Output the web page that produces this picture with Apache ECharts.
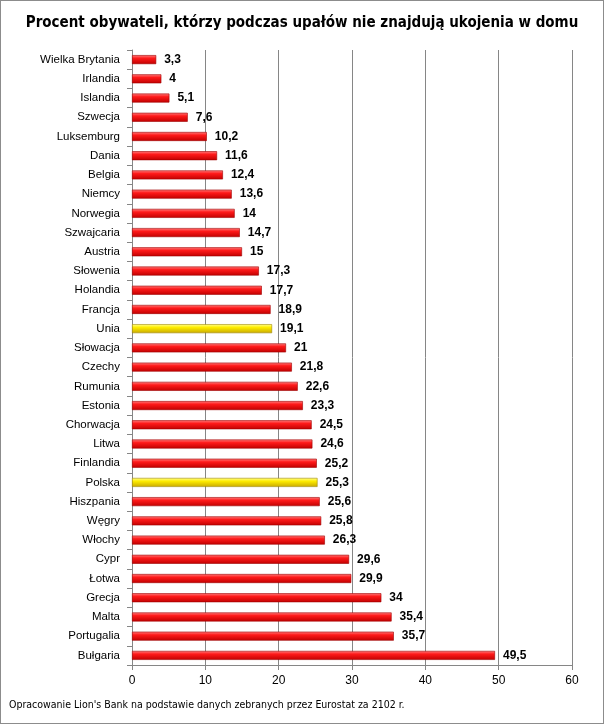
<!DOCTYPE html>
<html><head><meta charset="utf-8">
<script src="https://cdn.jsdelivr.net/npm/echarts@6/dist/echarts.min.js"></script>
<style>html,body{margin:0;padding:0;background:#fff}#c{width:604px;height:724px;box-sizing:border-box;border:1px solid #8c8c8c}</style>
</head><body><div id="c"></div>
<script>
const countries = ["Wielka Brytania","Irlandia","Islandia","Szwecja","Luksemburg","Dania","Belgia","Niemcy","Norwegia","Szwajcaria","Austria","Słowenia","Holandia","Francja","Unia","Słowacja","Czechy","Rumunia","Estonia","Chorwacja","Litwa","Finlandia","Polska","Hiszpania","Węgry","Włochy","Cypr","Łotwa","Grecja","Malta","Portugalia","Bułgaria"];
const values = [3.3,4,5.1,7.6,10.2,11.6,12.4,13.6,14,14.7,15,17.3,17.7,18.9,19.1,21,21.8,22.6,23.3,24.5,24.6,25.2,25.3,25.6,25.8,26.3,29.6,29.9,34,35.4,35.7,49.5];
const highlighted = ["Unia","Polska"];
const xTicks = [0,10,20,30,40,50,60];

const redGrad = new echarts.graphic.LinearGradient(0,0,0,1,[{offset:0,color:'#ff8080'},{offset:0.35,color:'#ff1a1a'},{offset:1,color:'#c00000'}]);
const yelGrad = new echarts.graphic.LinearGradient(0,0,0,1,[{offset:0,color:'#ffff99'},{offset:0.35,color:'#ffee00'},{offset:1,color:'#c8a800'}]);

const chart = echarts.init(document.getElementById('c'));
chart.setOption({
  animation:false,
  title:{text:'Procent obywateli, którzy podczas upałów nie znajdują ukojenia w domu',left:'center',top:10,
    textStyle:{fontFamily:'DejaVu Sans Condensed, Liberation Sans Narrow, Arial',fontSize:15,fontWeight:'bold',color:'#000'}},
  graphic:[{type:'text',left:8,top:699,style:{text:'Opracowanie Lion\'s Bank na podstawie danych zebranych przez Eurostat za 2102 r.',font:'10.5px "Liberation Sans Narrow", "DejaVu Sans Condensed", Arial',fill:'#000'}}],
  grid:{left:131,right:31,top:49,bottom:58,containLabel:false},
  xAxis:{type:'value',min:xTicks[0],max:xTicks[xTicks.length-1],interval:10,
    axisLine:{show:true,lineStyle:{color:'#868686'}},
    axisTick:{show:true,length:5,lineStyle:{color:'#868686'}},
    splitLine:{show:true,lineStyle:{color:'#868686',width:1}},
    axisLabel:{color:'#000',fontSize:12,margin:10,fontFamily:'Liberation Sans, Arial'}},
  yAxis:{type:'category',data:countries,inverse:true,
    axisLine:{show:true,lineStyle:{color:'#868686'}},
    axisTick:{show:true,length:5,lineStyle:{color:'#868686'}},
    splitLine:{show:false},
    axisLabel:{color:'#000',fontSize:11.5,margin:12,fontFamily:'Liberation Sans, Arial'}},
  series:[{type:'bar',barWidth:9,
    data:values.map((v,i)=>({value:v,itemStyle:{color:highlighted.includes(countries[i])?yelGrad:redGrad,
      borderColor:highlighted.includes(countries[i])?'#a08800':'#a00000',borderWidth:0.6}})),
    label:{show:true,position:'right',distance:8,color:'#000',fontWeight:'bold',fontSize:12,fontFamily:'Liberation Sans, Arial',
      formatter:p=>String(p.value).replace('.',',')}}]
});
</script></body></html>
